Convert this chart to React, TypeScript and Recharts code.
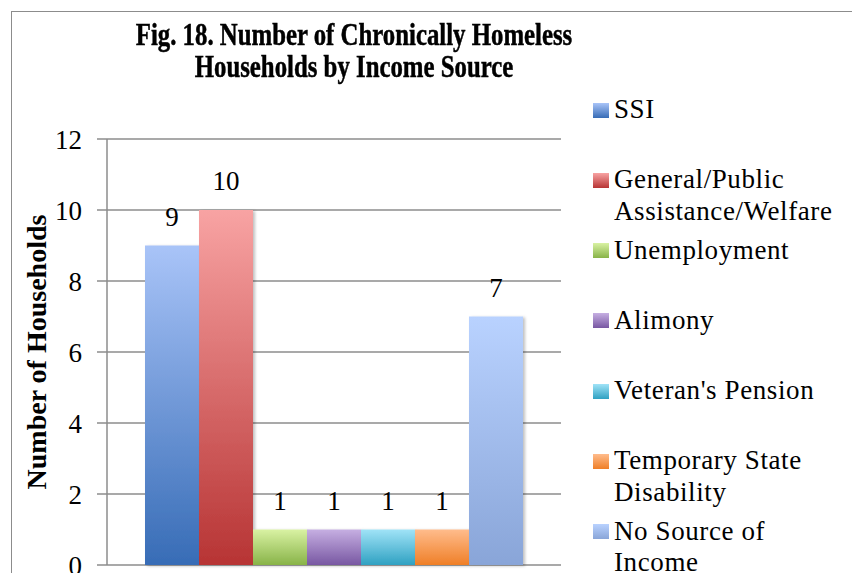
import React from 'react';
import { BarChart, Bar, XAxis, YAxis, CartesianGrid, Legend, LabelList } from 'recharts';

if (typeof document !== 'undefined') {
  document.documentElement.style.overflow = 'hidden';
  document.body.style.overflow = 'hidden';
}

const categories = ['Income Source'];
const seriesKeys = ['ssi', 'general', 'unemployment', 'alimony', 'veteran', 'temporary', 'none'];
const seriesNames = [
  'SSI',
  'General/Public Assistance/Welfare',
  'Unemployment',
  'Alimony',
  "Veteran's Pension",
  'Temporary State Disability',
  'No Source of Income',
];
const seriesValues = [9, 10, 1, 1, 1, 1, 7];
const yTicks = [0, 2, 4, 6, 8, 10, 12];
const titleLines = ['Fig. 18. Number of Chronically Homeless', 'Households by Income Source'];
const yAxisTitle = 'Number of Households';

const gradTop = ['#a9c4f8', '#f8a3a3', '#d9f2a3', '#c6afe2', '#a0e3f7', '#ffbc8c', '#b9d2ff'];
const gradBottom = ['#376cb6', '#b73434', '#88b348', '#7857a2', '#2fa1c2', '#ef7f27', '#89a5d8'];

const data = categories.map((c) => {
  const row: Record<string, any> = { category: c };
  seriesKeys.forEach((k, i) => {
    row[k] = seriesValues[i];
  });
  return row;
});

const SERIF = "'Liberation Serif', 'Times New Roman', serif";
const GRID = '#8c8c8c';

const renderLegend = (props: any) => {
  const payload = [...(props.payload || [])].sort(
    (a: any, b: any) => seriesKeys.indexOf(a.dataKey) - seriesKeys.indexOf(b.dataKey)
  );
  return (
    <div style={{ fontFamily: SERIF, fontSize: 27, color: '#000', letterSpacing: 0.6 }}>
      {payload.map((entry: any) => {
        const idx = seriesKeys.indexOf(entry.dataKey);
        return (
          <div key={entry.dataKey} style={{ display: 'flex', alignItems: 'flex-start', height: 70.3 }}>
            <div
              style={{
                width: 16,
                height: 15,
                marginTop: 8.5,
                marginRight: 5,
                flex: '0 0 auto',
                background: `linear-gradient(to bottom, ${gradTop[idx]}, ${gradBottom[idx]})`,
              }}
            />
            <div style={{ width: 232, lineHeight: '31.5px' }}>{entry.value}</div>
          </div>
        );
      })}
    </div>
  );
};

const renderYLabel = (props: any) => {
  const vb = props.viewBox || { x: 0, y: 0, width: 0, height: 0 };
  const cx = vb.x + 28;
  const cy = vb.y + vb.height / 2;
  return (
    <text
      x={cx}
      y={cy}
      transform={`rotate(-90, ${cx}, ${cy})`}
      textAnchor="middle"
      dominantBaseline="central"
      fontFamily={SERIF}
      fontWeight="bold"
      fontSize={28}
      fill="#000"
    >
      {yAxisTitle}
    </text>
  );
};

export default function App() {
  return (
    <div style={{ position: 'relative', width: 852, height: 565, overflow: 'hidden' }}>
      <div
        style={{
          position: 'absolute',
          left: 3,
          top: 3,
          width: 843,
          height: 620,
          border: '1.5px solid #8c8c8c',
          boxSizing: 'border-box',
        }}
      />
      <div
        style={{
          position: 'absolute',
          left: 346 - 300,
          top: 11,
          width: 600,
          textAlign: 'center',
          fontFamily: SERIF,
          fontWeight: 'bold',
          fontSize: 31,
          lineHeight: '31.5px',
          color: '#000',
          WebkitTextStroke: '0.5px #000',
        }}
      >
        {titleLines.map((t) => (
          <div key={t} style={{ transform: 'scaleX(0.8)', whiteSpace: 'nowrap' }}>
            {t}
          </div>
        ))}
      </div>
      <div style={{ position: 'absolute', left: 0, top: 0 }}>
        <BarChart
          width={852}
          height={600}
          data={data}
          margin={{ top: 131, right: 299, bottom: 43, left: 0 }}
          barGap={0}
          barSize={54}
        >
          <defs>
            {seriesKeys.map((k, i) => (
              <linearGradient key={k} id={`grad-${k}`} x1="0" y1="0" x2="0" y2="1">
                <stop offset="0%" stopColor={gradTop[i]} />
                <stop offset="100%" stopColor={gradBottom[i]} />
              </linearGradient>
            ))}
            <filter id="barShadow" x="-20%" y="-10%" width="140%" height="120%">
              <feDropShadow dx="2" dy="1" stdDeviation="1.5" floodColor="#000" floodOpacity="0.25" />
            </filter>
          </defs>
          <CartesianGrid horizontal vertical={false} stroke={GRID} strokeWidth={1.5} />
          <XAxis dataKey="category" hide />
          <YAxis
            width={99}
            domain={[0, 12]}
            ticks={yTicks}
            interval={0}
            tickSize={10}
            tickMargin={15}
            axisLine={{ stroke: GRID, strokeWidth: 1.5 }}
            tickLine={{ stroke: GRID, strokeWidth: 1.5 }}
            tick={{ fill: '#000', fontFamily: SERIF, fontSize: 27 }}
            label={{ content: renderYLabel }}
          />
          <Legend
            layout="vertical"
            align="center"
            verticalAlign="middle"
            itemSorter={null as any}
            content={renderLegend}
            wrapperStyle={{ left: 585, top: 86, width: 262 }}
          />
          {seriesKeys.map((k, i) => (
            <Bar
              key={k}
              dataKey={k}
              name={seriesNames[i]}
              fill={`url(#grad-${k})`}
              filter="url(#barShadow)"
              isAnimationActive={false}
            >
              <LabelList
                dataKey={k}
                position="top"
                offset={20}
                fill="#000"
                fontFamily={SERIF}
                fontSize={27}
              />
            </Bar>
          ))}
        </BarChart>
      </div>
    </div>
  );
}
